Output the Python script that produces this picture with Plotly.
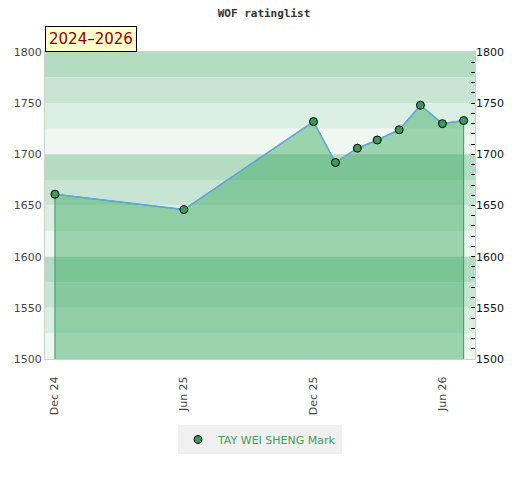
import plotly.graph_objects as go

dates = ["2024-12-01", "2025-06-01", "2025-12-01", "2026-01-01", "2026-02-01",
         "2026-03-01", "2026-04-01", "2026-05-01", "2026-06-01", "2026-07-01"]
ratings = [1661, 1646, 1732, 1692, 1706, 1714, 1724, 1748, 1730, 1733]
player = "TAY WEI SHENG Mark"
title = "WOF ratinglist"
period = "2024\u20132026"
xtick_vals = ["2024-12-01", "2025-06-01", "2025-12-01", "2026-06-01"]
xtick_text = ["Dec 24", "Jun 25", "Dec 25", "Jun 26"]
y_min, y_max = 1500, 1800
x_range = ["2024-11-17", "2026-07-17"]
band_colors = ["#b3dcc3", "#c8e5d4", "#dbeee2", "#eef7f1"]

fig = go.Figure()

# background bands (each 25 points)
shapes = []
lvl = y_max
i = 0
while lvl > y_min:
    shapes.append(dict(type="rect", xref="paper", yref="y", x0=0, x1=1,
                       y0=lvl - 25, y1=lvl, fillcolor=band_colors[i % 4],
                       line_width=0, layer="below"))
    lvl -= 25
    i += 1

# filled area polygon with vertical edges
fig.add_trace(go.Scatter(
    x=[dates[0]] + dates + [dates[-1]],
    y=[0] + ratings + [0],
    mode="lines", fill="toself",
    fillcolor="rgba(59,170,98,0.47)",
    line=dict(color="#3a9a5b", width=1),
    hoverinfo="skip", showlegend=False))

fig.add_trace(go.Scatter(
    x=dates, y=ratings, mode="lines", showlegend=False,
    line=dict(color="#5fa5e0", width=1.5), hoverinfo="skip"))

fig.add_trace(go.Scatter(
    x=dates, y=ratings, mode="markers", name=player,
    marker=dict(color="#3a9a5b", size=8, line=dict(color="#000000", width=1))))

# invisible trace for right axis
fig.add_trace(go.Scatter(x=[dates[0]], y=[ratings[0]], yaxis="y2",
                         mode="markers", marker=dict(opacity=0),
                         showlegend=False, hoverinfo="skip"))

fig.update_layout(
    width=512, height=472,
    margin=dict(l=37, r=45, t=44, b=121, autoexpand=False),
    paper_bgcolor="white", plot_bgcolor="white",
    shapes=shapes,
    title=dict(text="<b>" + title + "</b>", x=0.5, xanchor="center", y=0.998,
               yanchor="top",
               font=dict(family="DejaVu Sans Mono", size=11, color="#333333")),
    font=dict(family="DejaVu Sans", size=11, color="#444444"),
    xaxis=dict(type="date", range=x_range, tickvals=xtick_vals, ticktext=xtick_text,
               tickangle=-90, showgrid=False, zeroline=False, ticks="",
               ticklabelstandoff=12, automargin=False,
               showline=True, linecolor="#d0d0d0", mirror=True,
               tickfont=dict(size=11, color="#444444")),
    yaxis=dict(range=[y_min, y_max], dtick=50, showgrid=False, zeroline=False,
               ticks="", showline=True, linecolor="#d0d0d0", mirror=True,
               automargin=False,
               tickfont=dict(size=11, color="#444444")),
    yaxis2=dict(range=[y_min, y_max], dtick=50, overlaying="y", side="right",
                showgrid=False, zeroline=False, ticks="inside", ticklen=4,
                tickcolor="#000000", automargin=False,
                minor=dict(dtick=10, ticks="inside", ticklen=4, tickcolor="#000000"),
                tickfont=dict(size=11, color="#111111")),
    legend=dict(orientation="h", x=0.5, xanchor="center", y=-0.215, yanchor="top",
                bgcolor="#f0f0f0", font=dict(color="#3aa05a", size=11),
                itemwidth=30),
    annotations=[dict(text=period, xref="paper", yref="paper", x=0, y=1,
                      xanchor="left", yanchor="bottom", showarrow=False,
                      font=dict(family="DejaVu Sans", size=15, color="#8b0000"),
                      bgcolor="#ffffcc", bordercolor="#000000", borderwidth=1,
                      borderpad=3)],
)

fig.write_html("out.html")
